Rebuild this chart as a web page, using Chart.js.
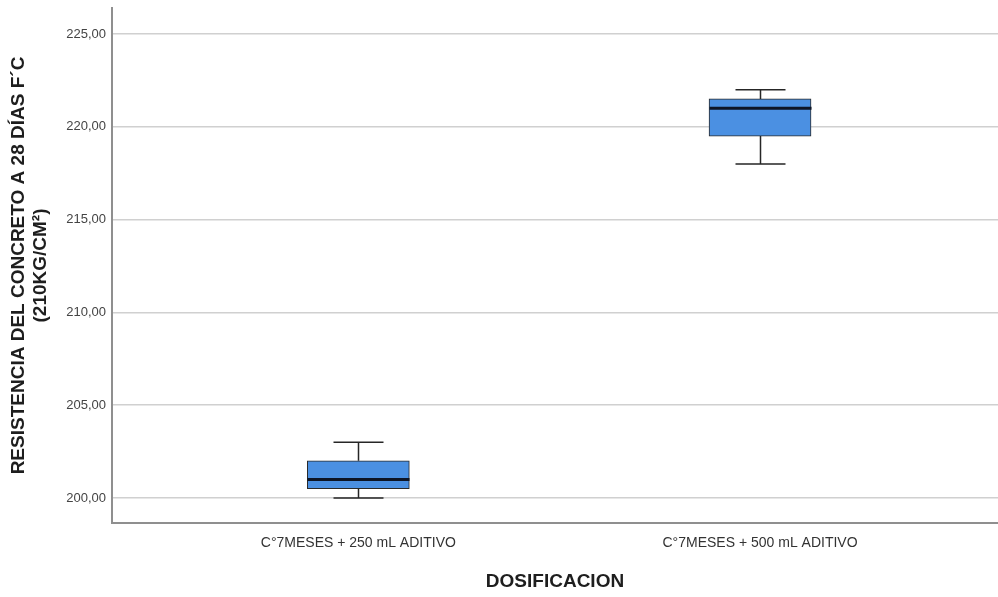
<!DOCTYPE html>
<html lang="es">
<head>
<meta charset="utf-8">
<title>Resistencia del concreto a 28 días</title>
<script src="https://cdn.jsdelivr.net/npm/chart.js@4.4.1/dist/chart.umd.min.js"></script>
<style>
  html, body { margin: 0; padding: 0; background: #ffffff; }
  #wrap { width: 998px; height: 597px; }
</style>
</head>
<body>
<div id="wrap"><canvas id="chart" width="998" height="597"></canvas></div>
<script>
// Box-plot summaries for each dosage group
const categories = ['C°7MESES + 250 mL ADITIVO', 'C°7MESES + 500 mL ADITIVO'];
const whiskerLow  = [200.0, 218.0];
const quartile1   = [200.5, 219.5];
const medians     = [201.0, 221.0];
const quartile3   = [202.0, 221.5];
const whiskerHigh = [203.0, 222.0];
const yTicks = [200, 205, 210, 215, 220, 225];

const BOX_WIDTH = 102;
const CAP_HALF = 25;

// Whiskers, caps and median lines drawn on top of the quartile boxes
const boxExtras = {
  id: 'boxExtras',
  afterDatasetsDraw(chart) {
    const { ctx, scales: { x, y } } = chart;
    ctx.save();
    categories.forEach((_, i) => {
      const cx = Math.round(x.getPixelForValue(i + 1)) + 0.5;
      const yLo = y.getPixelForValue(whiskerLow[i]);
      const yQ1 = y.getPixelForValue(quartile1[i]);
      const yQ3 = y.getPixelForValue(quartile3[i]);
      const yHi = y.getPixelForValue(whiskerHigh[i]);
      const yMed = y.getPixelForValue(medians[i]);
      ctx.strokeStyle = '#262626';
      ctx.lineWidth = 1.5;
      ctx.beginPath();
      ctx.moveTo(cx, yQ3); ctx.lineTo(cx, yHi);
      ctx.moveTo(cx, yQ1); ctx.lineTo(cx, yLo);
      ctx.moveTo(cx - CAP_HALF, yHi); ctx.lineTo(cx + CAP_HALF, yHi);
      ctx.moveTo(cx - CAP_HALF, yLo); ctx.lineTo(cx + CAP_HALF, yLo);
      ctx.stroke();
      ctx.strokeStyle = '#0d1526';
      ctx.lineWidth = 3;
      ctx.beginPath();
      ctx.moveTo(cx - BOX_WIDTH / 2, yMed); ctx.lineTo(cx + BOX_WIDTH / 2, yMed);
      ctx.stroke();
    });
    ctx.restore();
  }
};

new Chart(document.getElementById('chart'), {
  type: 'bar',
  data: {
    datasets: [{
      data: categories.map((_, i) => ({ x: i + 1, y: [quartile1[i], quartile3[i]] })),
      backgroundColor: '#4b90e2',
      borderColor: '#2a2a2a',
      borderWidth: 1,
      borderSkipped: false,
      barThickness: BOX_WIDTH
    }]
  },
  options: {
    responsive: false,
    devicePixelRatio: 1,
    animation: false,
    layout: { padding: { left: 0, right: 0, top: 8, bottom: 0 } },
    plugins: {
      legend: { display: false },
      tooltip: { enabled: false }
    },
    scales: {
      x: {
        type: 'linear',
        offset: false,
        min: 0.3868,
        max: 2.5924,
        afterBuildTicks(scale) { scale.ticks = categories.map((_, i) => ({ value: i + 1 })); },
        afterFit(scale) {
          scale.height = 74;
          scale.paddingLeft = 0;
          scale.paddingRight = 0;
        },
        grid: { display: false, drawTicks: false },
        border: { display: true, color: '#8f8f8f', width: 2 },
        ticks: {
          autoSkip: false,
          maxRotation: 0,
          padding: 12,
          color: '#333333',
          font: { family: '"Liberation Sans", Arial, sans-serif', size: 14 },
          callback: (v) => categories[v - 1] || ''
        },
        title: {
          display: true,
          text: 'DOSIFICACION',
          color: '#1e1e1e',
          font: { family: '"Liberation Sans", Arial, sans-serif', size: 19, weight: 'bold' },
          padding: { top: 0, bottom: 4 }
        }
      },
      y: {
        min: 198.65,
        max: 226.40,
        afterBuildTicks(scale) { scale.ticks = yTicks.map(v => ({ value: v })); },
        afterFit(scale) {
          scale.width = 112;
          scale.paddingTop = 0;
          scale.paddingBottom = 0;
        },
        grid: { color: '#d0d0d0', lineWidth: 1.5, drawTicks: false },
        border: { display: true, color: '#8f8f8f', width: 2 },
        ticks: {
          padding: 6,
          color: '#444444',
          font: { family: '"Liberation Sans", Arial, sans-serif', size: 13 },
          callback: (v) => v.toFixed(2).replace('.', ',')
        },
        title: {
          display: true,
          text: ['RESISTENCIA DEL CONCRETO A 28 DÍAS F´C', '(210KG/CM²)'],
          color: '#1e1e1e',
          font: { family: '"Liberation Sans", Arial, sans-serif', size: 19, weight: 'bold' },
          padding: { top: 7, bottom: 0 }
        }
      }
    }
  },
  plugins: [boxExtras]
});
</script>
</body>
</html>
